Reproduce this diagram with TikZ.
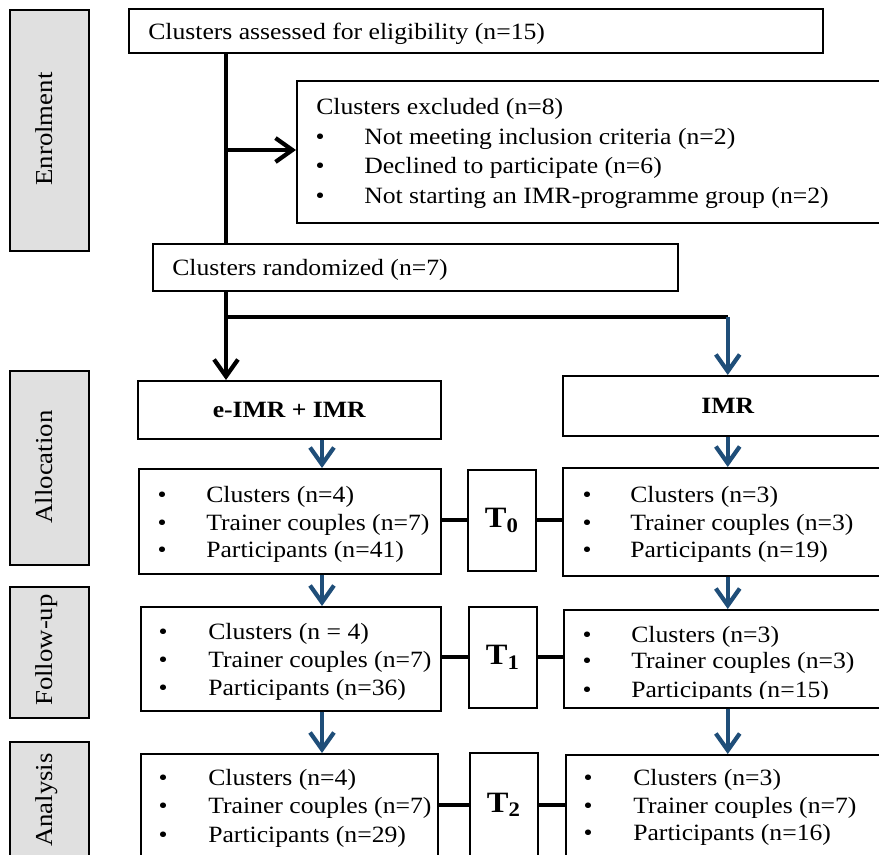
\documentclass[tikz,border=0pt]{standalone}
\usepackage{fontspec}
\setmainfont{Liberation Serif}[FakeStretch=1.1]
\usetikzlibrary{arrows.meta}

\definecolor{flowblue}{RGB}{31,78,121}
\definecolor{stagegrey}{RGB}{224,224,224}
\def\pxu{0.025cm}

\tikzset{
  box/.style={draw, line width=1.1pt, anchor=north west, inner sep=0pt},
  stagebox/.style={box, fill=stagegrey},
  stagelabel/.style={rotate=90, anchor=base, inner sep=0pt, font=\fontsize{17.3}{20}\selectfont},
  line/.style={anchor=base west, inner sep=0pt, font=\fontsize{16.6}{20}\selectfont},
  dot/.style={anchor=base, inner sep=0pt, font=\fontsize{16.6}{20}\selectfont},
  head/.style={font=\bfseries\fontsize{16.6}{20}\selectfont},
  tlabel/.style={font=\bfseries\fontsize{21}{24}\selectfont},
  link/.style={line width=3pt},
  barb/.style={-{Straight Barb[length=12pt,width=17pt]}},
  bluearrow/.style={line width=3pt, flowblue, barb},
}

% bullet line: [name](bullet x:text x:baseline){text}
\def\bulletline[#1](#2:#3:#4)#5{%
  \node[dot] (#1-dot) at (#2,#4) {\textbullet};
  \node[line] (#1) at (#3,#4) {#5};}

\begin{document}
\begin{tikzpicture}[x=\pxu, y=-\pxu]
  \useasboundingbox (0,0) rectangle (879,854);

  %%%%% stages %%%%%
  \node[stagebox, minimum width=79*\pxu, minimum height=241*\pxu] (enrolbox) at (9,9) {};
  \node[stagebox, minimum width=79*\pxu, minimum height=194*\pxu] (allocbox) at (9,370) {};
  \node[stagebox, minimum width=79*\pxu, minimum height=131*\pxu] (followbox) at (9,586) {};
  \node[stagebox, minimum width=79*\pxu, minimum height=200*\pxu] (analysisbox) at (9,741) {};
  \node[stagelabel] (enrol) at (52,129) {Enrolment};
  \node[stagelabel] (alloc) at (52,467) {Allocation};
  \node[stagelabel] (follow) at (52,650) {Follow-up};
  \node[stagelabel] (analysis) at (52,800) {Analysis};

  %%%%% enrolment %%%%%
  \node[box, minimum width=694*\pxu, minimum height=44*\pxu] (assess) at (128,8) {};
  \node[line] (assesstxt) at (148,40) {Clusters assessed for eligibility (n=15)};

  \node[box, minimum width=620*\pxu, minimum height=142*\pxu] (excl) at (296,80) {};
  \node[line] (exclhead) at (316,114) {Clusters excluded (n=8)};
  \bulletline[excla](320:364:144){Not meeting inclusion criteria (n=2)}
  \bulletline[exclb](320:364:173){Declined to participate (n=6)}
  \bulletline[exclc](320:364:203){Not starting an IMR-programme group (n=2)}

  \node[box, minimum width=525*\pxu, minimum height=47*\pxu] (rand) at (152,243) {};
  \node[line] (randtxt) at (172,275) {Clusters randomized (n=7)};

  %%%%% arms %%%%%
  \node[box, head, minimum width=303*\pxu, minimum height=58*\pxu] (eimr) at (137,380) {e-IMR + IMR};
  \node[box, head, minimum width=330*\pxu, minimum height=60*\pxu] (imr) at (562,375) {IMR};

  % T0
  \node[box, minimum width=302*\pxu, minimum height=105*\pxu] (l1) at (138,468) {};
  \bulletline[l1a](162:206:502){Clusters (n=4)}
  \bulletline[l1b](162:206:530){Trainer couples (n=7)}
  \bulletline[l1c](162:206:557){Participants (n=41)}
  \node[box, tlabel, minimum width=68*\pxu, minimum height=101*\pxu] (t0) at (467,469) {T\textsubscript{0}};
  \node[box, minimum width=330*\pxu, minimum height=108*\pxu] (r1) at (562,467) {};
  \bulletline[r1a](587:630:502){Clusters (n=3)}
  \bulletline[r1b](587:630:530){Trainer couples (n=3)}
  \bulletline[r1c](587:630:557){Participants (n=19)}

  % T1
  \node[box, minimum width=300*\pxu, minimum height=104*\pxu] (l2) at (140,606) {};
  \bulletline[l2a](163:208:639){Clusters (n = 4)}
  \bulletline[l2b](163:208:667){Trainer couples (n=7)}
  \bulletline[l2c](163:208:695){Participants (n=36)}
  \node[box, tlabel, minimum width=68*\pxu, minimum height=101*\pxu] (t1) at (468,606) {T\textsubscript{1}};
  \node[box, minimum width=329*\pxu, minimum height=98*\pxu] (r2) at (563,609) {};
  \bulletline[r2a](587:631:642){Clusters (n=3)}
  \bulletline[r2b](587:631:668){Trainer couples (n=3)}
  \begin{scope}
    \clip (563,609) rectangle (892,698);
    \bulletline[r2c](587:631:697){Participants (n=15)}
  \end{scope}

  % T2
  \node[box, minimum width=297*\pxu, minimum height=104*\pxu] (l3) at (140,753) {};
  \bulletline[l3a](163:208:785){Clusters (n=4)}
  \bulletline[l3b](163:208:813){Trainer couples (n=7)}
  \bulletline[l3c](163:208:842){Participants (n=29)}
  \node[box, tlabel, minimum width=68*\pxu, minimum height=104*\pxu] (t2) at (469,752) {T\textsubscript{2}};
  \node[box, minimum width=327*\pxu, minimum height=103*\pxu] (r3) at (565,754) {};
  \bulletline[r3a](588:633:785){Clusters (n=3)}
  \bulletline[r3b](588:633:813){Trainer couples (n=7)}
  \bulletline[r3c](588:633:840){Participants (n=16)}

  %%%%% connectors %%%%%
  \coordinate (trunk) at (226,150);
  \draw[link] (assess.south -| trunk) -- (rand.north -| trunk);
  \draw[link, barb] (trunk) -- (trunk -| excl.west);

  \coordinate (fork) at (226,317);
  \draw[link, barb] (rand.south -| fork) -- (eimr.north -| fork);
  \draw[link] (fork) -- (fork -| imr.north);
  \draw[bluearrow] (fork -| imr.north) -- (imr.north);

  \coordinate (leftcol) at (322,0);
  \draw[bluearrow] (eimr.south -| leftcol) -- (l1.north -| leftcol);
  \draw[bluearrow] (l1.south -| leftcol) -- (l2.north -| leftcol);
  \draw[bluearrow] (l2.south -| leftcol) -- (l3.north -| leftcol);
  \draw[bluearrow] (imr.south) -- (r1.north -| imr.south);
  \draw[bluearrow] (r1.south -| imr.south) -- (r2.north -| imr.south);
  \draw[bluearrow] (r2.south -| imr.south) -- (r3.north -| imr.south);

  \draw[link] (l1.east |- t0.west) -- (t0.west);
  \draw[link] (t0.east) -- (t0.east -| r1.west);
  \draw[link] (l2.east |- t1.west) -- (t1.west);
  \draw[link] (t1.east) -- (t1.east -| r2.west);
  \draw[link] (l3.east |- t2.west) -- (t2.west);
  \draw[link] (t2.east) -- (t2.east -| r3.west);
\end{tikzpicture}
\end{document}
